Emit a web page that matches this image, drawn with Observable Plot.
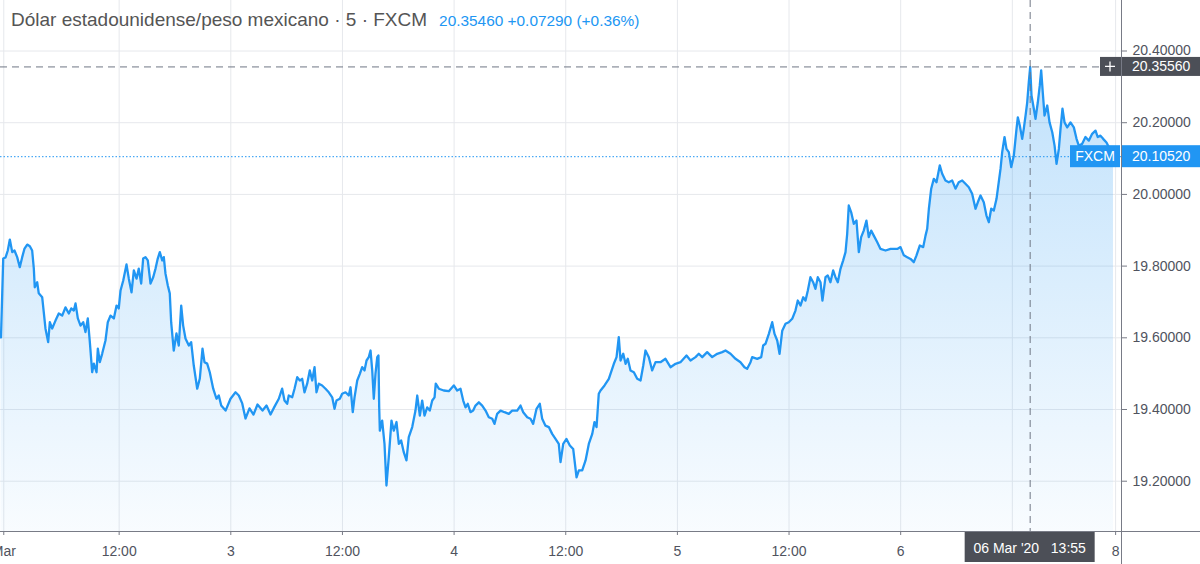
<!DOCTYPE html>
<html>
<head>
<meta charset="utf-8">
<script src="https://cdn.jsdelivr.net/npm/d3@7"></script>
<script src="https://cdn.jsdelivr.net/npm/@observablehq/plot@0.6"></script>
<style>
  body { margin: 0; background: #fff; }
  #wrap { position: relative; width: 1200px; height: 564px; overflow: hidden; font-family: "Liberation Sans", Arial, sans-serif; }
  #chart svg { display: block; }
  #legend { position: absolute; left: 11px; top: 8px; font-size: 19px; line-height: 23px; color: #555; white-space: nowrap; z-index: 2; }
  #legend .vals { color: #2196f3; font-size: 15.4px; margin-left: 12px; }
</style>
</head>
<body>
<div id="wrap">
  <div id="chart"></div>
  <div id="legend"><span id="title"></span><span class="vals" id="vals"></span></div>
</div>
<script>
// ---- data (hours since 2 Mar 2020 00:00, USD/MXN price) ----
const hours = [-0.70,-0.46,-0.21,0.03,0.25,0.51,0.75,1.04,1.32,1.58,1.83,2.12,2.40,2.65,2.83,2.93,3.19,3.36,3.73,3.90,4.08,4.37,4.55,4.80,5.16,5.51,5.88,6.23,6.59,6.85,7.13,7.31,7.56,7.85,8.14,8.38,8.63,8.85,9.10,9.28,9.57,9.71,9.92,10.18,10.53,10.78,11.07,11.43,11.72,11.96,12.15,12.44,12.79,13.04,13.33,13.58,13.87,14.11,14.37,14.58,14.83,15.08,15.37,15.66,15.91,16.15,16.37,16.63,16.80,16.98,17.23,17.44,17.59,17.87,18.16,18.41,18.67,18.88,19.13,19.49,19.74,20.02,20.39,20.67,20.96,21.17,21.46,21.74,22.11,22.46,22.71,22.97,23.44,23.97,24.51,24.86,25.23,25.58,26.01,26.44,26.87,27.41,27.84,28.27,28.70,29.16,29.52,29.77,30.06,30.23,30.60,30.85,31.14,31.42,31.67,31.92,32.21,32.49,32.75,33.00,33.21,33.46,33.82,34.18,34.53,34.90,35.15,35.36,35.72,35.97,36.33,36.68,36.87,37.11,37.30,37.59,37.87,38.12,38.37,38.59,38.83,39.02,39.20,39.37,39.55,39.74,39.87,39.95,40.02,40.27,40.52,40.73,40.98,41.27,41.52,41.81,42.06,42.31,42.59,42.88,43.13,43.50,43.85,44.04,44.32,44.57,44.82,45.11,45.39,45.65,45.90,46.03,46.36,46.89,47.43,47.97,48.33,48.69,48.98,49.23,49.47,49.76,50.05,50.30,50.66,51.02,51.38,51.73,52.10,52.34,52.63,52.99,53.42,53.88,54.24,54.78,55.14,55.43,55.86,56.21,56.50,56.86,57.21,57.47,57.82,58.18,58.54,58.90,59.25,59.44,59.73,60.08,60.44,60.80,61.16,61.41,61.77,62.13,62.48,62.85,63.09,63.31,63.55,63.74,64.17,64.63,64.81,65.17,65.46,65.70,65.89,66.18,66.43,66.67,66.96,67.32,67.68,68.04,68.33,68.57,68.93,69.29,69.65,70.18,70.72,71.26,71.80,72.33,72.98,73.41,73.95,74.30,74.67,75.20,75.74,76.28,76.82,77.17,77.71,78.25,78.78,79.21,79.50,79.86,80.04,80.58,81.01,81.22,81.47,81.83,82.19,82.44,82.73,82.98,83.27,83.62,83.97,84.34,84.69,84.94,85.23,85.52,85.77,86.02,86.30,86.59,86.84,87.09,87.38,87.59,87.92,88.16,88.45,88.74,88.99,89.24,89.53,89.82,90.07,90.25,90.42,90.68,90.96,91.25,91.50,91.75,92.03,92.32,92.57,92.83,93.11,93.47,93.83,94.37,94.91,95.63,95.98,96.34,96.70,97.06,97.41,97.70,98.06,98.42,98.67,98.85,99.03,99.28,99.56,99.85,100.20,100.46,100.81,101.17,101.53,101.89,102.24,102.61,102.96,103.32,103.68,104.04,104.29,104.58,104.93,105.22,105.47,105.73,106.01,106.30,106.54,106.73,106.91,107.16,107.37,107.62,107.88,108.16,108.45,108.59,108.80,109.06,109.23,109.42,109.60,109.77,109.92,110.06,110.31,110.49,110.74,110.95,111.10,111.27,111.46,111.75,112.00,112.29,112.54,112.75,113.00,113.18,113.39,113.61,113.90,114.25,114.61,114.90,115.14,115.51,115.86,116.22,116.58,116.94,117.18,117.47,117.76,118.12,118.55,118.87];
const prices = [19.601,19.821,19.824,19.8435,19.874,19.839,19.8435,19.825,19.797,19.825,19.849,19.860,19.8555,19.8435,19.793,19.741,19.755,19.724,19.713,19.671,19.626,19.588,19.6435,19.626,19.648,19.668,19.662,19.685,19.668,19.682,19.676,19.696,19.654,19.634,19.6435,19.616,19.654,19.588,19.504,19.528,19.504,19.570,19.532,19.556,19.5925,19.6435,19.662,19.654,19.690,19.682,19.732,19.760,19.8045,19.765,19.727,19.788,19.765,19.793,19.7515,19.821,19.825,19.816,19.7515,19.769,19.793,19.821,19.839,19.816,19.825,19.779,19.746,19.724,19.6435,19.5645,19.612,19.5785,19.690,19.634,19.598,19.5785,19.588,19.5227,19.458,19.4865,19.570,19.532,19.528,19.504,19.458,19.430,19.439,19.411,19.397,19.430,19.448,19.439,19.417,19.375,19.403,19.386,19.414,19.397,19.411,19.386,19.408,19.430,19.458,19.425,19.416,19.439,19.434,19.458,19.490,19.481,19.4856,19.448,19.472,19.509,19.481,19.518,19.448,19.472,19.467,19.458,19.448,19.434,19.402,19.425,19.430,19.444,19.448,19.439,19.462,19.3925,19.434,19.481,19.4996,19.518,19.509,19.5367,19.546,19.5645,19.509,19.430,19.4996,19.546,19.5506,19.406,19.341,19.369,19.304,19.188,19.267,19.369,19.341,19.365,19.304,19.3135,19.281,19.258,19.3227,19.351,19.397,19.439,19.383,19.425,19.383,19.406,19.397,19.425,19.434,19.472,19.458,19.453,19.451,19.467,19.453,19.458,19.425,19.406,19.416,19.3925,19.397,19.411,19.420,19.411,19.397,19.3785,19.374,19.360,19.388,19.397,19.3925,19.388,19.397,19.397,19.411,19.3925,19.3785,19.374,19.360,19.402,19.416,19.374,19.355,19.351,19.332,19.318,19.304,19.253,19.304,19.318,19.2996,19.290,19.211,19.230,19.230,19.258,19.304,19.332,19.365,19.351,19.444,19.453,19.467,19.4856,19.4996,19.5275,19.546,19.6017,19.5367,19.5554,19.5275,19.5414,19.5088,19.504,19.4856,19.481,19.5227,19.5645,19.546,19.509,19.532,19.532,19.5414,19.518,19.5275,19.532,19.5506,19.5367,19.546,19.5554,19.546,19.560,19.546,19.5554,19.560,19.5645,19.5554,19.5414,19.532,19.518,19.5135,19.532,19.546,19.5414,19.546,19.5785,19.5833,19.611,19.6435,19.611,19.5925,19.5554,19.620,19.639,19.6435,19.653,19.676,19.704,19.690,19.713,19.704,19.732,19.769,19.755,19.7367,19.769,19.755,19.704,19.769,19.774,19.755,19.788,19.769,19.755,19.7925,19.816,19.839,19.890,19.969,19.950,19.918,19.927,19.839,19.881,19.899,19.927,19.881,19.899,19.885,19.867,19.848,19.8435,19.848,19.848,19.853,19.830,19.825,19.820,19.811,19.830,19.8575,19.853,19.885,19.904,19.960,20.016,20.0435,20.034,20.081,20.0575,20.039,20.034,20.039,20.016,20.034,20.039,20.0296,20.020,20.0017,19.960,19.978,19.997,19.978,19.941,19.9225,19.960,19.955,19.9877,20.034,20.071,20.118,20.160,20.127,20.118,20.076,20.1085,20.183,20.215,20.192,20.155,20.183,20.220,20.257,20.313,20.3556,20.276,20.239,20.211,20.257,20.304,20.346,20.285,20.220,20.248,20.201,20.1735,20.136,20.085,20.127,20.183,20.239,20.201,20.187,20.201,20.187,20.155,20.136,20.141,20.160,20.150,20.169,20.178,20.160,20.164,20.155,20.145,20.1225,20.1052];

// tick at 108 (06 Mar 12:00) is hidden under the crosshair time label in the reference
const xTickHours  = [-0.4, 12, 24, 36, 48, 60, 72, 84, 96, 108, 119.1];
const xTickLabels = ["Mar", "12:00", "3", "12:00", "4", "12:00", "5", "12:00", "6", "", "8"];
const priceTicks  = [19.2, 19.4, 19.6, 19.8, 20.0, 20.2, 20.4];

const titleText   = "Dólar estadounidense/peso mexicano · 5 · FXCM";
const quoteText   = "20.35460 +0.07290 (+0.36%)";
const symbolLabel = "FXCM";
const crossHour   = 96 + 13 + 55 / 60;   // 06 Mar 13:55
const crossPrice  = 20.3556;
const lastPrice   = 20.1052;
const crossTimeLabel = "06 Mar '20   13:55";

const xDomain = [-0.7524, 119.733];
const yDomain = [19.0597, 20.5409];

// ---- chart ----
const series = hours.map((h, i) => ({h, v: prices[i]}));
const labelOf = new Map(xTickHours.map((h, i) => [h, xTickLabels[i]]));

const W = 1200, H = 564;
const FONT = '"Liberation Sans", Arial, sans-serif';
const grid = "#e6e8ec", axisCol = "#787b86", textCol = "#50535e", blue = "#2196f3", crossCol = "#6f7784", darkLbl = "#4c4f57";

document.getElementById("title").textContent = titleText;
document.getElementById("vals").textContent = quoteText;

const chart = Plot.plot({
  width: W, height: H,
  marginLeft: 0, marginRight: 79, marginTop: 0, marginBottom: 33,
  style: {fontFamily: FONT, fontSize: "14px", background: "#fff", overflow: "hidden"},
  x: {type: "linear", domain: xDomain},
  y: {type: "linear", domain: yDomain},
  marks: [
    Plot.ruleX(xTickHours, {stroke: grid}),
    Plot.ruleY(priceTicks, {stroke: grid}),
    Plot.areaY(series, {x: "h", y1: () => yDomain[0], y2: "v", fill: "url(#fxGrad)"}),
    Plot.ruleY([lastPrice], {stroke: blue, strokeDasharray: "1.5,2"}),
    Plot.line(series, {x: "h", y: "v", stroke: blue, strokeWidth: 2.3, strokeLinejoin: "round"}),
    Plot.ruleY([crossPrice], {stroke: crossCol, strokeDasharray: "7,5"}),
    Plot.ruleX([crossHour], {stroke: crossCol, strokeDasharray: "7,5"}),
    Plot.axisX({ticks: xTickHours, tickFormat: d => labelOf.get(d), tickSize: 4, tickPadding: 11, label: null,
                stroke: axisCol, fill: textCol, fontSize: 14}),
    Plot.axisY({anchor: "right", ticks: priceTicks, tickFormat: d => d.toFixed(5), tickSize: 5, tickPadding: 6, label: null,
                stroke: axisCol, fill: textCol, fontSize: 14, textAnchor: "start"})
  ]
});
document.getElementById("chart").appendChild(chart);

const sx = chart.scale("x"), sy = chart.scale("y");
const svg = d3.select(chart);
const defs = svg.insert("defs", ":first-child");
const grad = defs.append("linearGradient").attr("id", "fxGrad").attr("gradientUnits", "userSpaceOnUse")
  .attr("x1", 0).attr("x2", 0).attr("y1", sy.apply(d3.max(prices))).attr("y2", sy.apply(yDomain[0]));
grad.append("stop").attr("offset", 0).attr("stop-color", blue).attr("stop-opacity", 0.28);
grad.append("stop").attr("offset", 1).attr("stop-color", blue).attr("stop-opacity", 0.03);

const axisX = sx.range[1];
const baseY = sy.range[0];
const layer = svg.append("g").attr("font-family", FONT).attr("font-size", 14).attr("text-anchor", "start");

// crosshair price label
const cy = sy.apply(crossPrice);
layer.append("rect").attr("x", axisX - 21).attr("y", cy - 9.5).attr("width", W - axisX + 21).attr("height", 19).attr("fill", darkLbl);
layer.append("path").attr("d", `M${axisX - 16},${cy}h10M${axisX - 11},${cy - 5}v10`).attr("stroke", "#fff").attr("stroke-width", 1.3);
layer.append("text").attr("x", axisX + 11).attr("y", cy).attr("dy", "0.35em").attr("text-anchor", "start").attr("fill", "#fff").text(crossPrice.toFixed(5));

// last price labels
const ly = sy.apply(lastPrice);
layer.append("rect").attr("x", axisX - 51).attr("y", ly - 11).attr("width", 50).attr("height", 22).attr("fill", blue);
layer.append("text").attr("x", axisX - 26).attr("y", ly).attr("dy", "0.35em").attr("text-anchor", "middle").attr("fill", "#fff").text(symbolLabel);
layer.append("rect").attr("x", axisX + 1).attr("y", ly - 11).attr("width", W - axisX - 1).attr("height", 22).attr("fill", blue);
layer.append("text").attr("x", axisX + 11).attr("y", ly).attr("dy", "0.35em").attr("text-anchor", "start").attr("fill", "#fff").text(lastPrice.toFixed(5));

// crosshair time label
const cx = sx.apply(crossHour);
layer.append("rect").attr("x", cx - 65).attr("y", baseY + 1).attr("width", 130).attr("height", 30).attr("fill", darkLbl);
layer.append("text").attr("x", cx).attr("y", baseY + 17).attr("dy", "0.35em").attr("text-anchor", "middle")
  .attr("fill", "#fff").attr("style", "white-space:pre").text(crossTimeLabel);

// scale borders
svg.append("line").attr("x1", 0).attr("x2", W).attr("y1", baseY + 0.5).attr("y2", baseY + 0.5).attr("stroke", axisCol);
svg.append("line").attr("x1", axisX + 0.5).attr("x2", axisX + 0.5).attr("y1", 0).attr("y2", H).attr("stroke", axisCol);
</script>
</body>
</html>
